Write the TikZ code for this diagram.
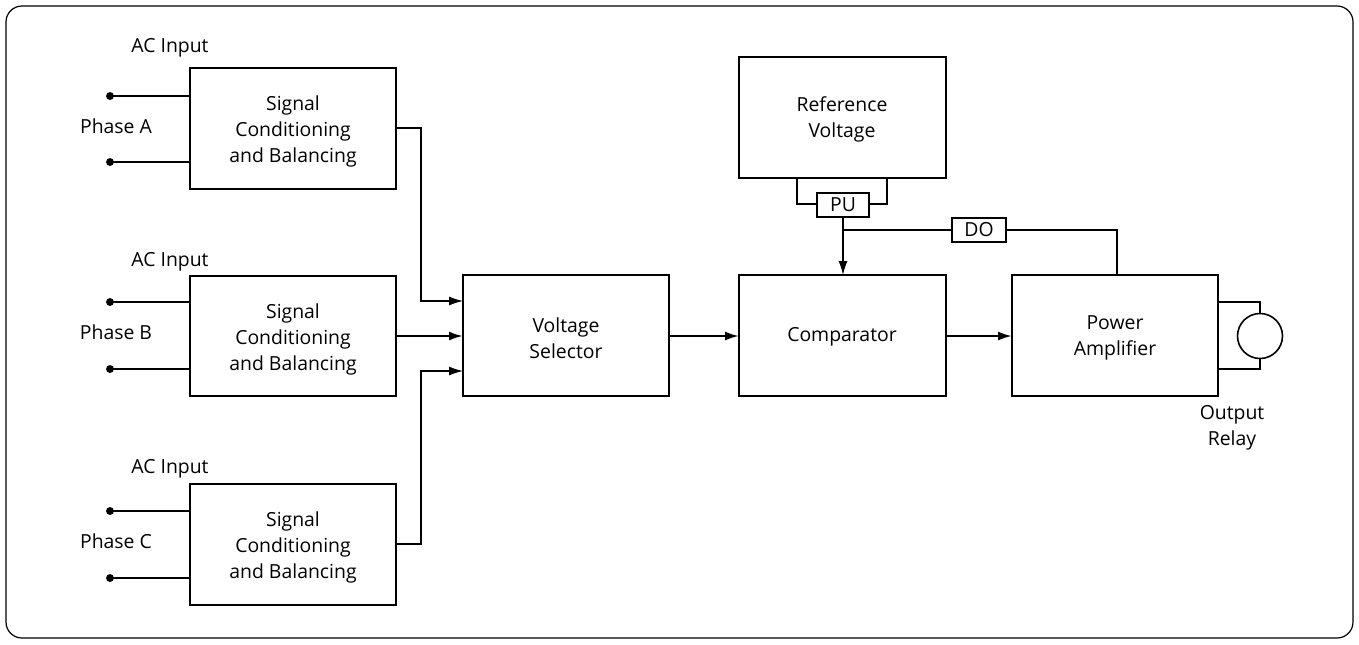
\documentclass[tikz,border=0pt]{standalone}
\usepackage{fontspec}
\setmainfont{Open Sans}
\usetikzlibrary{arrows.meta}
\begin{document}
\begin{tikzpicture}[x=0.5pt,y=-0.5pt,
  box/.style={draw,line width=1.1pt,fill=white},
  tag/.style={draw,line width=0.8pt,fill=white},
  wire/.style={line width=0.6pt},
  arr/.style={wire,-{Latex[length=7pt,width=4.5pt]}},
  barr/.style={line width=1.1pt,-{Latex[length=7pt,width=4.5pt]}},
  lbl/.style={font=\fontsize{9.7}{13}\selectfont,align=center},
  dot/.style={circle,fill,inner sep=1.4pt}]
\useasboundingbox (0,0) rectangle (1359,644);
\draw[line width=0.6pt,rounded corners=8pt] (6,6) rectangle (1353,638);
% boxes
\draw[box] (190,68) rectangle (396,189); \node[lbl] (sa) at (293,131) {Signal\\Conditioning\\and Balancing};
\draw[box] (190,276) rectangle (396,396); \node[lbl] (sb) at (293,339) {Signal\\Conditioning\\and Balancing};
\draw[box] (190,484) rectangle (396,605); \node[lbl] (sc) at (293,547) {Signal\\Conditioning\\and Balancing};
\draw[box] (463,275) rectangle (669,396); \node[lbl] (vs) at (566,338) {Voltage\\Selector};
\draw[box] (739,57) rectangle (946,178); \node[lbl] (rv) at (842,119) {Reference\\Voltage};
\draw[box] (739,275) rectangle (946,396); \node[lbl] (cp) at (842,337) {Comparator};
\draw[box] (1012,275) rectangle (1218,396); \node[lbl] (pa) at (1115,338) {Power\\Amplifier};
% inputs
\foreach \y/\ya/\yb/\ph in {48/96/162/A,262/302/369/B,469/511/578/C}{
  \node[lbl] at (170,\y) {AC Input};
  \node[lbl] at (116,{(\ya+\yb)/2-3}) {Phase \ph};
  \node[dot] (d1\ph) at (110,\ya) {}; \node[dot] (d2\ph) at (110,\yb) {};
  \draw[wire] (d1\ph.center) -- (190,\ya);
  \draw[wire] (d2\ph.center) -- (190,\yb);
}
% connectors to selector
\draw[arr] (396,128) -- (421,128) -- (421,301) -- (463,301);
\draw[barr] (396,336) -- (463,336);
\draw[arr] (396,544) -- (421,544) -- (421,371) -- (463,371);
\draw[barr] (669,336) -- (739,336);
\draw[barr] (946,336) -- (1012,336);
% PU / DO
\draw[wire] (797,178) -- (797,204) -- (817,204);
\draw[wire] (887,178) -- (887,204) -- (869,204);
\node[tag,minimum width=26pt,minimum height=12pt,inner sep=0pt,lbl] (pu) at (843,205) {PU};
\draw[arr] (pu.south) -- (843,275);
\node[tag,minimum width=27pt,minimum height=12pt,inner sep=0pt,lbl] (do) at (979,230) {DO};
\draw[wire] (843,230) -- (do.west);
\draw[wire] (do.east) -- (1117,230) -- (1117,275);
% relay
\node[draw,circle,line width=0.8pt,minimum size=22.5pt,inner sep=0pt] (rl) at (1260,336) {};
\draw[wire] (1218,302) -- (1260,302) -- (rl.north);
\draw[wire] (1218,369) -- (1260,369) -- (rl.south);
\node[lbl] at (1232,428) {Output\\Relay};
\end{tikzpicture}
\end{document}
